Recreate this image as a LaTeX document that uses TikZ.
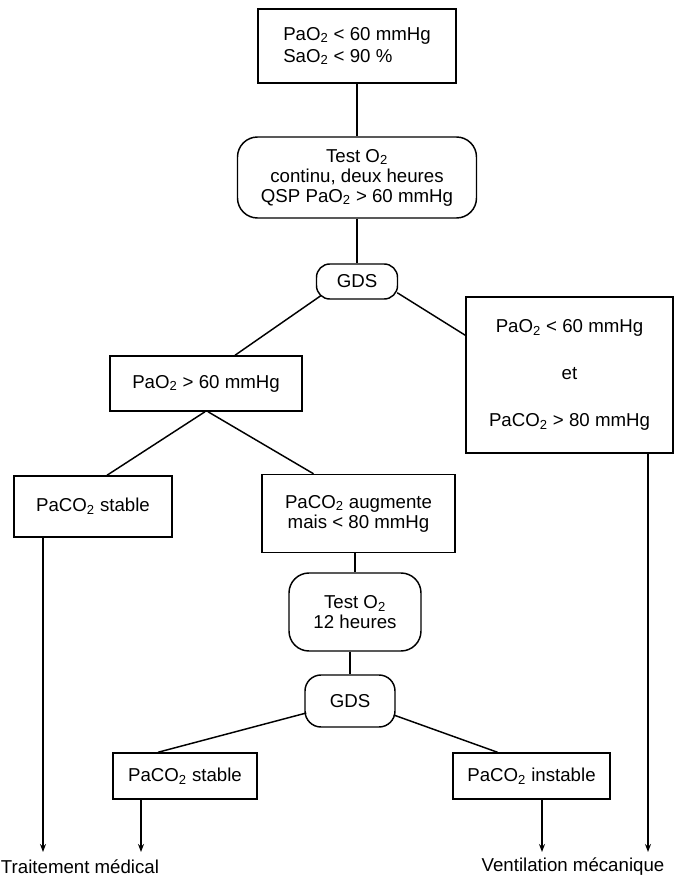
\documentclass[tikz,border=0pt]{standalone}
\usepackage{fontspec}
\setmainfont{Liberation Sans}
\usetikzlibrary{arrows.meta,calc}
\newcommand{\subtwo}{\textsubscript{2}}
\begin{document}
\begin{tikzpicture}[x=0.75pt,y=-0.75pt,
  every node/.style={font=\fontsize{14}{15}\selectfont, inner sep=0pt, align=center},
  box/.style={draw, line width=1.1pt},
  rbox/.style={draw, line width=1.1pt, rounded corners=15pt},
  gbox/.style={draw, line width=1.1pt, rounded corners=10pt},
  conn/.style={line width=1.1pt},
  arr/.style={line width=1.1pt, -{Stealth[length=6pt,width=4.5pt]}}]
\useasboundingbox (0,0) rectangle (675,877);

\node[box, align=left, minimum width=148.5pt, minimum height=55.5pt] (top) at (357,46)
  {PaO\subtwo{} < 60 mmHg\\[1.5pt] SaO\subtwo{} < 90 \%};
\node[rbox, minimum width=179.25pt, minimum height=60.75pt] (test) at (357,177.5)
  {Test O\subtwo\\ continu, deux heures\\ QSP PaO\subtwo{} > 60 mmHg};
\node[gbox, minimum width=60.75pt, minimum height=26.25pt] (gds1) at (357,281.5) {GDS};
\node[box, minimum width=155.25pt, minimum height=117pt] (right) at (569.5,375)
  {PaO\subtwo{} < 60 mmHg\\[20pt] et\\[20pt] PaCO\subtwo{} > 80 mmHg};
\node[box, minimum width=144pt, minimum height=41.25pt] (p60) at (206,383.5) {PaO\subtwo{} > 60 mmHg};
\node[box, minimum width=118.5pt, minimum height=45.75pt] (stab) at (93,506.5) {PaCO\subtwo{} stable};
\node[box, minimum width=144.75pt, minimum height=58.5pt] (aug) at (358.5,513.5)
  {PaCO\subtwo{} augmente\\ mais < 80 mmHg};
\node[rbox, minimum width=99pt, minimum height=58.5pt] (t12) at (355,612) {Test O\subtwo\\ 12 heures};
\node[gbox, rounded corners=12pt, minimum width=67.5pt, minimum height=39pt] (gds2) at (350,701) {GDS};
\node[box, minimum width=108pt, minimum height=34.5pt] (ll) at (185,776) {PaCO\subtwo{} stable};
\node[box, minimum width=117.75pt, minimum height=34.5pt] (lr) at (531.5,776) {PaCO\subtwo{} instable};

\node (tm) at (80,867) {Traitement médical};
\node (vm) at (573,867) {Ventilation mécanique};

\coordinate (a1) at (43,852);
\coordinate (a2) at (141,852);
\coordinate (a3) at (542,852);
\coordinate (a4) at (648,852);

\draw[conn] (top.south) -- (test.north);
\draw[conn] (test.south) -- (gds1.north);
\draw[conn] ($(gds1.south west)+(5,-4)$) -- ($(p60.north)+(29,0)$);
\draw[conn] ($(gds1.south east)+(-1,-7)$) -- ($(right.north west)+(0,39)$);
\draw[conn] ($(p60.south)+(-1,0)$) -- ($(stab.north)+(14,0)$);
\draw[conn] ($(p60.south)+(2,0)$) -- ($(aug.north)+(-45,0)$);
\draw[conn] (aug.south -| t12.north) -- (t12.north);
\draw[conn] (t12.south -| gds2.north) -- (gds2.north);
\draw[conn] ($(gds2.west)+(2,12)$) -- ($(ll.north)+(-27,0)$);
\draw[conn] ($(gds2.east)+(-2,14)$) -- ($(lr.north)+(-34,0)$);

\draw[arr] (stab.south -| a1) -- (a1);
\draw[arr] (ll.south -| a2) -- (a2);
\draw[arr] (lr.south -| a3) -- (a3);
\draw[arr] (right.south -| a4) -- (a4);
\end{tikzpicture}
\end{document}
